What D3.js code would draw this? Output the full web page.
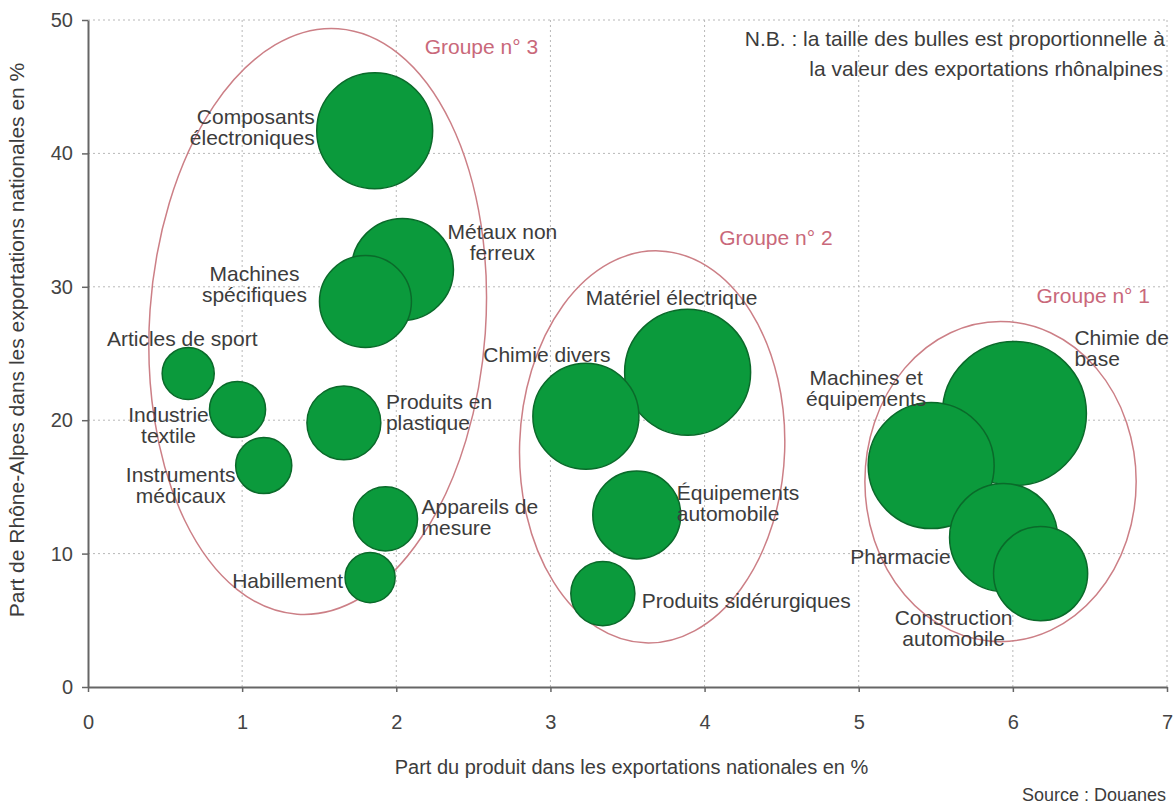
<!DOCTYPE html>
<html><head><meta charset="utf-8">
<script src="https://cdn.jsdelivr.net/npm/d3@7"></script>
<style>
body{margin:0;background:#fff}
text{font-family:"Liberation Sans",Arial,sans-serif;fill:#3c3c3c}
</style>
</head><body>
<svg id="c" width="1176" height="804"></svg>
<script>
// ---- data ----
const products = ["Composants électroniques","Métaux non ferreux","Machines spécifiques","Articles de sport","Industrie textile","Instruments médicaux","Produits en plastique","Appareils de mesure","Habillement","Chimie divers","Matériel électrique","Équipements automobile","Produits sidérurgiques","Chimie de base","Machines et équipements","Pharmacie","Construction automobile"];
// part du produit dans les exportations nationales (%)
const xShare = [1.86,2.04,1.80,0.65,0.97,1.14,1.66,1.93,1.83,3.23,3.89,3.56,3.34,6.01,5.47,5.94,6.18];
// part de Rhône-Alpes dans les exportations nationales (%)
const yShare = [41.7,31.3,28.9,23.5,20.8,16.6,19.8,12.6,8.2,20.3,23.6,12.9,7.0,20.5,16.6,11.2,8.5];
// valeur des exportations rhônalpines (unités relatives, taille des bulles)
const exportValue = [3.37,2.61,2.12,0.68,0.79,0.79,1.37,1.03,0.63,2.82,3.98,1.94,1.03,5.2,3.98,2.93,2.22];
const labelText = ["Composants\nélectroniques","Métaux non\nferreux","Machines\nspécifiques","Articles de sport","Industrie\ntextile","Instruments\nmédicaux","Produits en\nplastique","Appareils de\nmesure","Habillement","Chimie divers","Matériel électrique","Équipements\nautomobile","Produits sidérurgiques","Chimie de\nbase","Machines et\néquipements","Pharmacie","Construction\nautomobile"];
const xTicks = [0,1,2,3,4,5,6,7];
const yTicks = [0,10,20,30,40,50];
const groupNames = ["Groupe n° 3","Groupe n° 2","Groupe n° 1"];
const groupCx = [1.49,3.66,5.92];
const groupCy = [27.4,18.0,15.4];
const groupRx = [1.09,0.86,0.88];
const groupRy = [22.0,14.7,12.0];

// ---- layout (not data) ----
const labelLayout = [
 ["end",-60,-4],["middle",100,-28],["middle",-111,-18],["middle",-6,-36],["middle",-69,15],
 ["middle",-83,19],["start",42,-11],["start",36,-2],["end",-27,2],["middle",-39,-62],
 ["middle",-16,-75],["start",40,-12],["start",39,6],["start",60,-66],["middle",-65,-78],
 ["end",-53,18],["middle",-87,54]];
const groupRot = [4,2,0];
const groupLabelPos = [[107,-275],[67,-209],[36,-186]];

const svg = d3.select("#c");
const x = d3.scaleLinear().domain([0,7]).range([88,1167]);
const y = d3.scaleLinear().domain([0,50]).range([687,20]);
const r = d3.scaleSqrt().domain([0,5.2]).range([0,72]);

// grid
const grid = svg.append("g").attr("stroke","#b8b8b8").attr("stroke-dasharray","2,3").attr("stroke-width",1);
grid.selectAll(".vx").data(xTicks.filter(d=>d>0)).join("line")
  .attr("x1",d=>x(d)).attr("x2",d=>x(d)).attr("y1",y(0)).attr("y2",y(50));
grid.selectAll(".hy").data(yTicks.filter(d=>d>0)).join("line")
  .attr("x1",x(0)).attr("x2",x(7)).attr("y1",d=>y(d)).attr("y2",d=>y(d));

// group ellipses
const gEl = svg.append("g");
groupNames.forEach((g,i)=>{
  const cx=x(groupCx[i]), cy=y(groupCy[i]);
  gEl.append("ellipse").attr("cx",cx).attr("cy",cy)
    .attr("rx",x(groupRx[i])-x(0)).attr("ry",y(0)-y(groupRy[i]))
    .attr("transform",`rotate(${groupRot[i]},${cx},${cy})`)
    .attr("fill","none").attr("stroke","#cc7f86").attr("stroke-width",1.5);
  gEl.append("text").attr("x",cx+groupLabelPos[i][0]).attr("y",cy+groupLabelPos[i][1])
    .attr("dominant-baseline","central").attr("font-size",21).style("fill","#c9687a").text(g);
});

// bubbles
const idx = d3.range(products.length).sort((a,b)=>exportValue[b]-exportValue[a]);
svg.append("g").selectAll("circle").data(idx).join("circle")
  .attr("cx",i=>x(xShare[i])).attr("cy",i=>y(yShare[i])).attr("r",i=>r(exportValue[i]))
  .attr("fill","#0b9a3c").attr("stroke","#0a6a2a").attr("stroke-width",1.5);

// labels
const lg = svg.append("g");
products.forEach((p,i)=>{
  const [anchor,dx,dy]=labelLayout[i];
  const lines=labelText[i].split("\n");
  const lh=21;
  const t=lg.append("text").attr("text-anchor",anchor).attr("font-size",21)
    .attr("dominant-baseline","central");
  lines.forEach((ln,k)=>{
    t.append("tspan").attr("x",x(xShare[i])+dx)
     .attr("y",y(yShare[i])+dy+(k-(lines.length-1)/2)*lh).text(ln);
  });
});

// axes
const ax = svg.append("g").attr("transform",`translate(0,${y(0)})`)
  .call(d3.axisBottom(x).tickValues(xTicks).tickSize(5).tickSizeOuter(0).tickPadding(23).tickFormat(d3.format("d")));
const ay = svg.append("g").attr("transform",`translate(${x(0)},0)`)
  .call(d3.axisLeft(y).tickValues(yTicks).tickSize(6).tickSizeOuter(0).tickPadding(9).tickFormat(d3.format("d")));
[ax,ay].forEach(a=>{
  a.select(".domain").attr("stroke","#666").attr("stroke-width",2);
  a.selectAll(".tick line").attr("stroke","#666").attr("stroke-width",1.5);
  a.selectAll(".tick text").attr("font-size",20).attr("font-family","Liberation Sans, Arial, sans-serif").style("fill","#444");
});

// titles
svg.append("text").attr("x",(x(0)+x(7))/2+4).attr("y",767).attr("text-anchor","middle")
  .attr("dominant-baseline","central").attr("font-size",20)
  .text("Part du produit dans les exportations nationales en %");
svg.append("text").attr("transform","translate(16,340) rotate(-90)").attr("text-anchor","middle")
  .attr("dominant-baseline","central").attr("font-size",21)
  .text("Part de Rhône-Alpes dans les exportations nationales en %");
svg.append("text").attr("x",1166).attr("y",795).attr("text-anchor","end")
  .attr("dominant-baseline","central").attr("font-size",18).text("Source : Douanes");
const nb = svg.append("text").attr("text-anchor","end").attr("font-size",21).attr("dominant-baseline","central");
nb.append("tspan").attr("x",1165).attr("y",38).text("N.B. : la taille des bulles est proportionnelle à");
nb.append("tspan").attr("x",1163).attr("y",68).text("la valeur des exportations rhônalpines");
</script>
</body></html>
